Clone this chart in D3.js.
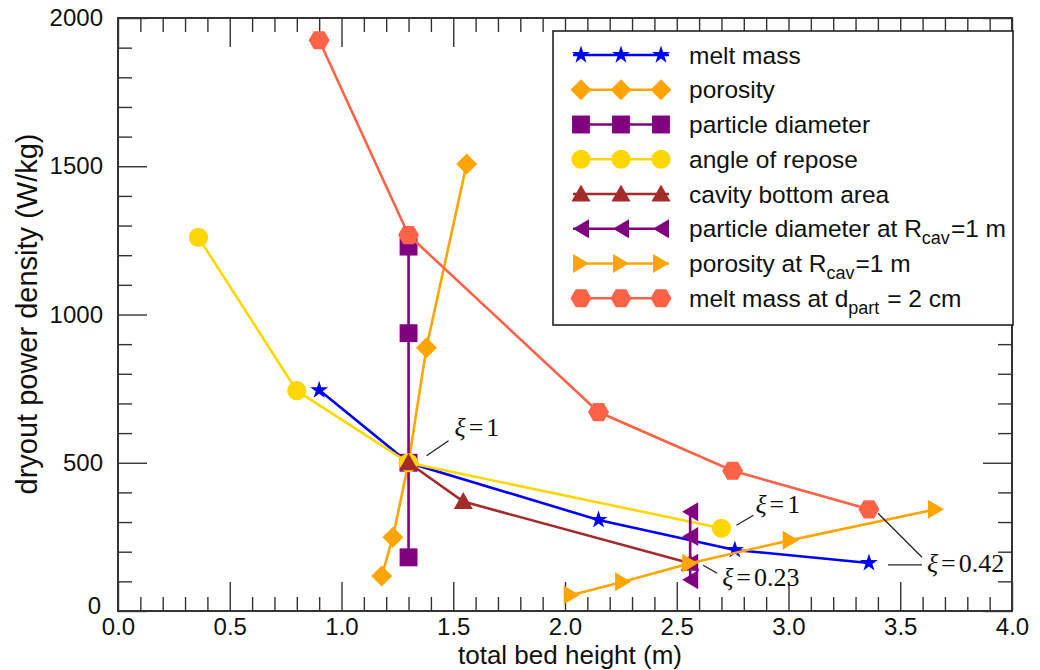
<!DOCTYPE html>
<html>
<head>
<meta charset="utf-8">
<script src="https://cdn.jsdelivr.net/npm/d3@7"></script>
<style>
  body { margin: 0; background: #fff; }
  svg { display: block; }
</style>
</head>
<body>
<svg id="chart" width="1040" height="670"></svg>
<script>
// ---- data: total bed height (m) vs dryout power density (W/kg) ----
const xMajorTicks = [0, 0.5, 1.0, 1.5, 2.0, 2.5, 3.0, 3.5, 4.0];
const yMajorTicks = [0, 500, 1000, 1500, 2000];

const meltMassH = [0.90, 1.30, 2.15, 2.76, 3.36];
const meltMassQ = [745, 500, 307, 206, 162];

const porosityH = [1.18, 1.23, 1.30, 1.38, 1.56];
const porosityQ = [118, 249, 500, 888, 1508];

const particleDiamH = [1.30, 1.30, 1.30, 1.30];
const particleDiamQ = [181, 500, 937, 1229];

const reposeH = [0.36, 0.80, 1.30, 2.70];
const reposeQ = [1260, 743, 500, 279];

const cavityAreaH = [1.30, 1.545, 2.56];
const cavityAreaQ = [500, 369, 161];

const particleDiamRcavH = [2.56, 2.56, 2.56, 2.56];
const particleDiamRcavQ = [335, 251, 161, 105];

const porosityRcavH = [2.03, 2.26, 2.56, 3.01, 3.66];
const porosityRcavQ = [54, 99, 161, 239, 343];

const meltMassDpartH = [0.90, 1.30, 2.15, 2.75, 3.36];
const meltMassDpartQ = [1925, 1268, 671, 473, 343];

// legend labels: [main text, subscript, trailing text]
const legendLabels = [
  ["melt mass", "", ""],
  ["porosity", "", ""],
  ["particle diameter", "", ""],
  ["angle of repose", "", ""],
  ["cavity bottom area", "", ""],
  ["particle diameter at R", "cav", "=1 m"],
  ["porosity at R", "cav", "=1 m"],
  ["melt mass at d", "part", " = 2 cm"]
];

const series = [
  { h: meltMassH, q: meltMassQ, color: "#0000ff", marker: "star" },
  { h: porosityH, q: porosityQ, color: "#ffa500", marker: "diamond" },
  { h: particleDiamH, q: particleDiamQ, color: "#800080", marker: "square" },
  { h: reposeH, q: reposeQ, color: "#ffd700", marker: "circle" },
  { h: cavityAreaH, q: cavityAreaQ, color: "#a52a2a", marker: "triUp" },
  { h: particleDiamRcavH, q: particleDiamRcavQ, color: "#800080", marker: "triLeft" },
  { h: porosityRcavH, q: porosityRcavQ, color: "#ffa500", marker: "triRight" },
  { h: meltMassDpartH, q: meltMassDpartQ, color: "#ff6347", marker: "hexagon" }
];

// ---- layout ----
const svg = d3.select("#chart");
const plot = { left: 118, right: 1012, top: 18, bottom: 611 };
const x = d3.scaleLinear().domain([0, 4]).range([plot.left, plot.right]);
const y = d3.scaleLinear().domain([0, 2000]).range([plot.bottom, plot.top]);

const sansFont = "'Liberation Sans', Arial, Helvetica, sans-serif";
const serifFont = "'Liberation Serif', 'Times New Roman', serif";

// ---- marker shapes ----
function polygon(pts) {
  return "M" + pts.map(p => p[0].toFixed(2) + "," + p[1].toFixed(2)).join("L") + "Z";
}
function markerPath(kind) {
  switch (kind) {
    case "star": return d3.symbol(d3.symbolStar, 100)();
    case "circle": return d3.symbol(d3.symbolCircle, 290)();
    case "square": return d3.symbol(d3.symbolSquare, 320)();
    case "diamond": {
      const r = 10.5;
      return polygon([[0, -r], [r, 0], [0, r], [-r, 0]]);
    }
    case "triUp": {
      const w = 9.5, h = 8.5;
      return polygon([[0, -h - 1], [w, h - 1], [-w, h - 1]]);
    }
    case "triLeft": {
      const w = 8, h = 9.5;
      return polygon([[-w, 0], [w, -h], [w, h]]);
    }
    case "triRight": {
      const w = 8, h = 9.5;
      return polygon([[w, 0], [-w, -h], [-w, h]]);
    }
    case "hexagon": {
      const r = 10.5;
      return polygon(d3.range(6).map(i => {
        const a = i * Math.PI / 3;
        return [r * Math.cos(a), r * Math.sin(a)];
      }));
    }
  }
}

// ---- axes (ticks on all four sides, pointing inward) ----
const xMinorTicks = d3.range(0, 41).map(i => i / 10).filter(v => Math.abs(v * 2 - Math.round(v * 2)) > 1e-6);
const yMinorTicks = d3.range(0, 2001, 100).filter(v => v % 500 !== 0);
const majorLen = 29, minorLen = 14;

function styleAxis(g) {
  g.select(".domain").remove();
  g.selectAll(".tick line").attr("stroke", "#333").attr("stroke-width", 1.4);
  g.selectAll(".tick text").attr("fill", "#111").style("font-family", sansFont).style("font-size", "24px");
}

const axes = svg.append("g").attr("class", "axes");

axes.append("g").attr("transform", `translate(0,${plot.bottom})`)
  .call(d3.axisBottom(x).tickValues(xMajorTicks).tickSize(-majorLen).tickPadding(7).tickFormat(d3.format(".1f")))
  .call(styleAxis);
axes.append("g").attr("transform", `translate(0,${plot.bottom})`)
  .call(d3.axisBottom(x).tickValues(xMinorTicks).tickSize(-minorLen).tickFormat(""))
  .call(styleAxis);
axes.append("g").attr("transform", `translate(0,${plot.top})`)
  .call(d3.axisTop(x).tickValues(xMajorTicks).tickSize(-majorLen).tickFormat(""))
  .call(styleAxis);
axes.append("g").attr("transform", `translate(0,${plot.top})`)
  .call(d3.axisTop(x).tickValues(xMinorTicks).tickSize(-minorLen).tickFormat(""))
  .call(styleAxis);

const yAxisG = axes.append("g").attr("transform", `translate(${plot.left},0)`)
  .call(d3.axisLeft(y).tickValues(yMajorTicks).tickSize(-majorLen).tickPadding(15).tickFormat(d3.format("d")))
  .call(styleAxis);
// the zero label sits just above the corner so it clears the x-axis "0.0"
yAxisG.selectAll(".tick text").filter(d => d === 0).attr("dy", "0.1em").attr("x", -17);
axes.append("g").attr("transform", `translate(${plot.left},0)`)
  .call(d3.axisLeft(y).tickValues(yMinorTicks).tickSize(-minorLen).tickFormat(""))
  .call(styleAxis);
axes.append("g").attr("transform", `translate(${plot.right},0)`)
  .call(d3.axisRight(y).tickValues(yMajorTicks).tickSize(-majorLen).tickFormat(""))
  .call(styleAxis);
axes.append("g").attr("transform", `translate(${plot.right},0)`)
  .call(d3.axisRight(y).tickValues(yMinorTicks).tickSize(-minorLen).tickFormat(""))
  .call(styleAxis);

// plot frame
axes.append("rect")
  .attr("x", plot.left).attr("y", plot.top)
  .attr("width", plot.right - plot.left).attr("height", plot.bottom - plot.top)
  .attr("fill", "none").attr("stroke", "#333").attr("stroke-width", 2);

// axis titles
svg.append("text")
  .attr("x", 570).attr("y", 664)
  .attr("text-anchor", "middle")
  .style("font-family", sansFont).style("font-size", "26px").attr("fill", "#111")
  .text("total bed height (m)");
svg.append("text")
  .attr("transform", `translate(37,314) rotate(-90)`)
  .attr("text-anchor", "middle")
  .style("font-family", sansFont).style("font-size", "29px").attr("fill", "#111")
  .text("dryout power density (W/kg)");

// ---- series: connecting lines then markers ----
const line = d3.line().x(d => x(d[0])).y(d => y(d[1]));
const seriesLayer = svg.append("g").attr("class", "series");
series.forEach(s => {
  const pts = s.h.map((h, i) => [h, s.q[i]]);
  const g = seriesLayer.append("g");
  g.append("path").attr("d", line(pts))
    .attr("fill", "none").attr("stroke", s.color).attr("stroke-width", 2.6);
  g.selectAll("path.marker").data(pts).enter().append("path")
    .attr("class", "marker")
    .attr("transform", d => `translate(${x(d[0])},${y(d[1])})`)
    .attr("d", markerPath(s.marker))
    .attr("fill", s.color);
});

// ---- annotations (ξ values with leader lines) ----
const annLayer = svg.append("g").attr("class", "annotations");
function leader(px, py, l) {
  annLayer.append("line")
    .attr("x1", px + l[0]).attr("y1", py + l[1])
    .attr("x2", px + l[2]).attr("y2", py + l[3])
    .attr("stroke", "#222").attr("stroke-width", 1.3);
}
function annotate(px, py, l, tx, ty, label) {
  leader(px, py, l);
  const t = annLayer.append("text")
    .attr("x", px + tx).attr("y", py + ty)
    .style("font-family", serifFont).style("font-size", "26px").attr("fill", "#111");
  t.append("tspan").style("font-style", "italic").text("ξ");
  t.append("tspan").attr("dx", 3).text("=");
  t.append("tspan").attr("dx", 3).text(label);
}
annotate(x(particleDiamH[1]), y(particleDiamQ[1]), [18, -7, 40, -22], 46, -27, "1");
annotate(x(reposeH[3]), y(reposeQ[3]), [15, -3, 32, -13], 34, -15, "1");
annotate(x(cavityAreaH[2]), y(cavityAreaQ[2]), [13, 2, 27, 10], 32, 23, "0.23");
annotate(x(meltMassH[4]), y(meltMassQ[4]), [19, 2, 53, 2], 58, 9, "0.42");
leader(x(meltMassDpartH[4]), y(meltMassDpartQ[4]), [9, 4, 53, 48]);

// ---- legend ----
const legend = svg.append("g").attr("class", "legend");
const lg = { x: 553, y: 31, w: 460, h: 294, row0: 55, rowStep: 34.75 };
legend.append("rect")
  .attr("x", lg.x).attr("y", lg.y).attr("width", lg.w).attr("height", lg.h)
  .attr("fill", "#fff").attr("stroke", "#222").attr("stroke-width", 1.6);
const sampleMarks = [581, 621, 661];
series.forEach((s, i) => {
  const cy = lg.row0 + i * lg.rowStep;
  legend.append("line")
    .attr("x1", 573).attr("x2", 669).attr("y1", cy).attr("y2", cy)
    .attr("stroke", s.color).attr("stroke-width", 2.6);
  sampleMarks.forEach(mx => {
    legend.append("path")
      .attr("transform", `translate(${mx},${cy})`)
      .attr("d", markerPath(s.marker)).attr("fill", s.color);
  });
  const parts = legendLabels[i];
  const t = legend.append("text")
    .attr("x", 689).attr("y", cy + 8.5)
    .style("font-family", sansFont).style("font-size", "24.5px").attr("fill", "#111");
  t.append("tspan").text(parts[0]);
  if (parts[1]) {
    t.append("tspan").attr("dy", 7).style("font-size", "18px").text(parts[1]);
    t.append("tspan").attr("dy", -7).attr("dx", 1).text(parts[2]);
  }
});
</script>
</body>
</html>
